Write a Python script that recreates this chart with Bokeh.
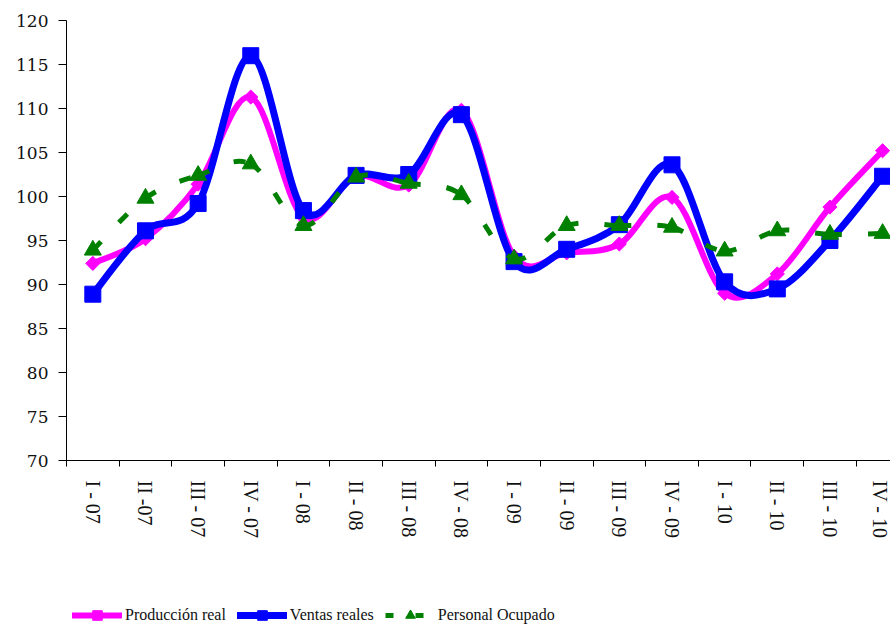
import numpy as np
from bokeh.plotting import figure
from bokeh.layouts import column
from bokeh.models import (ColumnDataSource, Range1d, FixedTicker, Legend, LegendItem)
from bokeh.embed import file_html
from bokeh.resources import INLINE

categories = ["I - 07", "II -07", "III - 07", "IV - 07", "I - 08", "II - 08", "III - 08", "IV - 08",
              "I - 09", "II - 09", "III - 09", "IV - 09", "I - 10", "II - 10", "III - 10", "IV - 10"]
produccion = [92.4, 95.2, 101.4, 111.3, 97.6, 102.3, 101.3, 109.8,
              93.2, 93.6, 94.6, 99.9, 89.0, 91.2, 98.8, 105.2]
ventas = [88.9, 96.1, 99.2, 116.0, 98.4, 102.4, 102.5, 109.3,
          92.6, 94.0, 96.8, 103.6, 90.3, 89.5, 95.0, 102.3]
personal = [93.9, 99.8, 102.4, 103.7, 96.7, 102.2, 101.5, 100.2,
            92.9, 96.7, 96.7, 96.5, 93.8, 96.1, 95.7, 95.8]
y_ticks = [70, 75, 80, 85, 90, 95, 100, 105, 110, 115, 120]
series_names = ["Producción real", "Ventas reales", "Personal Ocupado"]

xs = np.arange(len(categories)) + 0.5


def smooth_segments(x, y):
    """Bezier control points for a smoothed (Catmull-Rom like) line through the data."""
    x = np.asarray(x, float)
    y = np.asarray(y, float)
    n = len(x)
    xp = np.concatenate([[x[0]], x, [x[-1]]])
    yp = np.concatenate([[y[0]], y, [y[-1]]])
    i = np.arange(n - 1)
    x0, y0 = x[i], y[i]
    x1, y1 = x[i + 1], y[i + 1]
    cx0 = x0 + (xp[i + 2] - xp[i]) / 6.0
    cy0 = y0 + (yp[i + 2] - yp[i]) / 6.0
    cx1 = x1 - (xp[i + 3] - xp[i + 1]) / 6.0
    cy1 = y1 - (yp[i + 3] - yp[i + 1]) / 6.0
    return ColumnDataSource(dict(x0=x0, y0=y0, x1=x1, y1=y1, cx0=cx0, cy0=cy0, cx1=cx1, cy1=cy1))


W = 890
H_CHART = 597
H_LEG = 30
p = figure(width=W, height=H_CHART, output_backend="svg", toolbar_location=None,
           x_range=Range1d(0, 15.65), y_range=Range1d(70, 120),
           min_border_left=66, min_border_top=20, min_border_right=0,
           min_border_bottom=H_CHART - 460)
p.outline_line_color = None
p.grid.grid_line_color = None
p.background_fill_color = "white"
p.border_fill_color = "white"

# y axis
p.yaxis.ticker = FixedTicker(ticks=y_ticks)
p.yaxis.major_tick_in = 0
p.yaxis.major_tick_out = 8
p.yaxis.minor_tick_line_color = None
p.yaxis.major_label_standoff = 10
p.yaxis.major_label_text_font = "DejaVu Serif"
p.yaxis.major_label_text_font_size = "17px"
p.yaxis.major_label_text_color = "#111111"
p.yaxis.axis_line_color = "black"
p.yaxis.major_tick_line_color = "black"

# x axis
p.xaxis.ticker = FixedTicker(ticks=list(xs), minor_ticks=list(range(len(categories) + 1)))
p.xaxis.major_label_overrides = {float(v): c for v, c in zip(xs, categories)}
p.xaxis.major_tick_in = 0
p.xaxis.major_tick_out = 0
p.xaxis.minor_tick_in = 0
p.xaxis.minor_tick_out = 6
p.xaxis.minor_tick_line_color = "black"
p.xaxis.major_label_orientation = "vertical"
p.xaxis.major_label_standoff = 14
p.xaxis.major_label_text_font = "Liberation Serif"
p.xaxis.major_label_text_font_size = "20px"
p.xaxis.major_label_text_color = "#111111"
p.xaxis.axis_line_color = "black"

# series
mag = "#FF00FF"
blu = "#0000FF"
grn = "#008000"

src_p = smooth_segments(xs, produccion)
src_v = smooth_segments(xs, ventas)
src_o = smooth_segments(xs, personal)

p.bezier(x0="x0", y0="y0", x1="x1", y1="y1", cx0="cx0", cy0="cy0", cx1="cx1", cy1="cy1",
         source=src_p, line_color=mag, line_width=6, line_cap="round")
p.scatter(xs, produccion, marker="square", angle=np.pi / 4, size=10,
          fill_color=mag, line_color=mag)

p.bezier(x0="x0", y0="y0", x1="x1", y1="y1", cx0="cx0", cy0="cy0", cx1="cx1", cy1="cy1",
         source=src_v, line_color=blu, line_width=7, line_cap="round")
p.scatter(xs, ventas, marker="square", size=16, fill_color=blu, line_color=blu)

p.bezier(x0="x0", y0="y0", x1="x1", y1="y1", cx0="cx0", cy0="cy0", cx1="cx1", cy1="cy1",
         source=src_o, line_color=grn, line_width=5, line_dash="12 26")
p.scatter(xs, personal, marker="triangle", size=17, fill_color=grn, line_color=grn)

# legend strip below the chart
leg = figure(width=W, height=H_LEG, output_backend="svg", toolbar_location=None,
             x_range=Range1d(0, 1), y_range=Range1d(0, 1),
             x_axis_location=None, y_axis_location=None, min_border=0)
leg.outline_line_color = None
leg.grid.grid_line_color = None
nan_src = ColumnDataSource(dict(x=[np.nan], y=[np.nan]))
lp = leg.line("x", "y", source=nan_src, line_color=mag, line_width=6, line_cap="round")
mp = leg.scatter("x", "y", source=nan_src, marker="square", angle=np.pi / 4, size=10,
                 fill_color=mag, line_color=mag)
lv = leg.line("x", "y", source=nan_src, line_color=blu, line_width=7, line_cap="round")
mv = leg.scatter("x", "y", source=nan_src, marker="square", size=14, fill_color=blu, line_color=blu)
lo = leg.line("x", "y", source=nan_src, line_color=grn, line_width=5, line_dash="8 22")
mo = leg.scatter("x", "y", source=nan_src, marker="triangle", size=14, fill_color=grn, line_color=grn)

legend = Legend(items=[LegendItem(label=series_names[0], renderers=[lp, mp]),
                       LegendItem(label=series_names[1], renderers=[lv, mv]),
                       LegendItem(label=series_names[2], renderers=[lo, mo])],
                orientation="horizontal", location=(6, 0),
                glyph_width=50, glyph_height=24, label_standoff=3, spacing=11,
                padding=0, margin=0, border_line_color=None, background_fill_alpha=0,
                label_text_font="Liberation Serif", label_text_font_size="16px",
                label_text_color="#111111")
leg.add_layout(legend, "center")

layout = column(p, leg, spacing=0)
open("out.html", "w").write(file_html(layout, INLINE))
